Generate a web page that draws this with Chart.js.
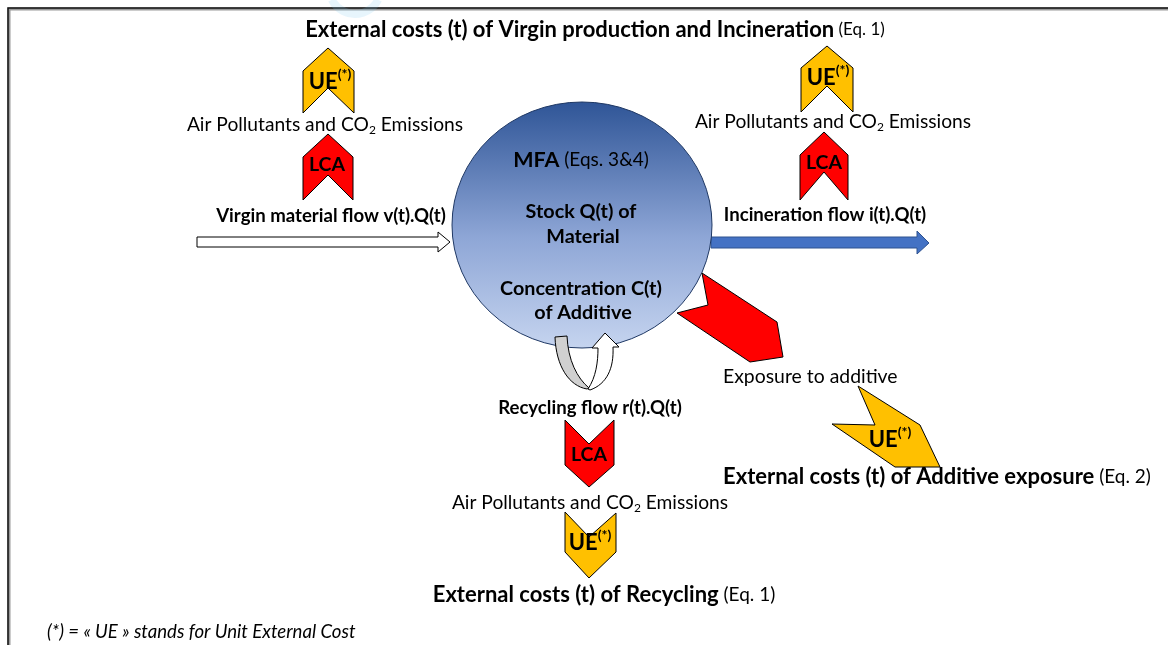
<!DOCTYPE html>
<html>
<head>
<meta charset="utf-8">
<script src="https://cdn.jsdelivr.net/npm/chart.js@4.4.1/dist/chart.umd.min.js"></script>
<style>
html, body { margin: 0; padding: 0; background: #fff; }
#wrap { width: 1168px; height: 645px; }
</style>
</head>
<body>
<div id="wrap"><canvas id="diagram" width="1168" height="645"></canvas></div>
<script>
// shapes (x, y in picture units)
const ueVirgin = [[328,48],[354,71],[354,113],[328,88],[303,113],[303,71]];
const lcaVirgin = [[328,134],[353,157],[353,200],[328,175],[303,200],[303,157]];
const ueIncin = [[827,46],[853,68],[853,112],[827,86],[801,112],[801,68]];
const lcaIncin = [[824,132],[848,155],[848,200],[824,172],[800,200],[800,155]];
const lcaRecycl = [[565,420],[589,444],[614,420],[614,465],[589,487],[565,465]];
const ueRecycl = [[565,512],[589,537],[616,513],[616,552],[589,578],[565,552]];
const exposureArrow = [[702,273],[777,322],[783,357],[750,362],[677,313],[708,305]];
const ueExposure = [[858,386],[920,425],[940,467],[895,467],[832,424],[875,425]];
const virginFlow = [[197,237],[438,237],[438,232],[450,242],[438,252],[438,247],[197,247]];
const incinFlow = [[711,237],[917,237],[917,231],[929,243],[917,254],[917,248],[711,248]];
const stockCircle = [582, 225, 130, 123];

// texts: [text, weight, size, shift]
const titleTop = [["External costs (t) of Virgin production and Incineration","bold",22],[" (Eq. 1)","normal",17]];
const airText = [["Air Pollutants and CO","normal",19.2],["2","normal",12,"sub"],[" Emissions","normal",19.2]];
const ueText = [["UE","bold",22],["(*)","bold",14,"sup"]];
const lcaText = [["LCA","bold",19.5]];
const virginText = [["Virgin material flow v(t).Q(t)","bold",18.6]];
const incinText = [["Incineration flow i(t).Q(t)","bold",18.6]];
const recyclText = [["Recycling flow r(t).Q(t)","bold",18.6]];
const mfaText = [["MFA","bold",21.5],[" (Eqs. 3&4)","normal",19]];
const stockText = [[["Stock Q(t) of","bold",19.8]],[["Material","bold",19.8]]];
const concText = [[["Concentration C(t)","bold",19.8]],[["of Additive","bold",19.8]]];
const exposureText = [["Exposure to additive","normal",19.4]];
const additiveCost = [["External costs (t) of Additive exposure","bold",22],[" (Eq. 2)","normal",19]];
const recyclCost = [["External costs (t) of Recycling","bold",22],[" (Eq. 1)","normal",19]];
const footnote = [["(*) = « UE » stands for Unit External Cost","italic",18.6]];

const FONT = "Lato, 'Open Sans', sans-serif";

const diagramPlugin = {
    id: "diagram",
    afterDraw(chart) {
        const ctx = chart.ctx;
        const sx = chart.scales.x, sy = chart.scales.y;
        const px = v => sx.getPixelForValue(v);
        const py = v => sy.getPixelForValue(v);

        function poly(pts, fill, stroke) {
            ctx.beginPath();
            pts.forEach((p, i) => i ? ctx.lineTo(px(p[0]), py(p[1])) : ctx.moveTo(px(p[0]), py(p[1])));
            ctx.closePath();
            ctx.fillStyle = fill;
            ctx.fill();
            ctx.lineWidth = 1;
            ctx.strokeStyle = stroke || "#000";
            ctx.stroke();
        }

        function runs(list, x, y, align) {
            const parts = list.map(r => {
                const f = (r[1] === "italic" ? "italic " : r[1] === "bold" ? "bold " : "") + r[2] + "px " + FONT;
                ctx.font = f;
                return { t: r[0], f: f, w: ctx.measureText(r[0]).width, s: r[3] };
            });
            const total = parts.reduce((a, p) => a + p.w, 0);
            let cx = align === "left" ? px(x) : px(x) - total / 2;
            ctx.textBaseline = "middle";
            ctx.textAlign = "left";
            ctx.fillStyle = "#000";
            parts.forEach(p => {
                ctx.font = p.f;
                const dy = p.s === "sub" ? 5 : p.s === "sup" ? -8 : 0;
                ctx.fillText(p.t, cx, py(y) + dy);
                cx += p.w;
            });
        }

        ctx.save();

        // frame
        ctx.strokeStyle = "#999";
        ctx.lineWidth = 3;
        ctx.beginPath();
        ctx.moveTo(px(9), py(645)); ctx.lineTo(px(9), py(9)); ctx.lineTo(px(1168), py(9));
        ctx.stroke();
        ctx.strokeStyle = "#111";
        ctx.lineWidth = 1.5;
        ctx.beginPath();
        ctx.moveTo(px(8), py(645)); ctx.lineTo(px(8), py(8)); ctx.lineTo(px(1168), py(8));
        ctx.stroke();

        // faint watermark
        ctx.strokeStyle = "rgba(120,200,240,0.18)";
        ctx.lineWidth = 8;
        ctx.beginPath();
        ctx.arc(px(355), py(-12), 26, 0.15 * Math.PI, 0.85 * Math.PI);
        ctx.stroke();

        // flows
        poly(virginFlow, "#fff");
        poly(incinFlow, "#4472c4", "#2f528f");

        // stock circle
        const [cx0, cy0, rx, ry] = stockCircle;
        const g = ctx.createLinearGradient(0, py(cy0 - ry), 0, py(cy0 + ry));
        g.addColorStop(0, "#2f5597");
        g.addColorStop(0.55, "#8ea6d6");
        g.addColorStop(1, "#c5d4ef");
        ctx.beginPath();
        ctx.ellipse(px(cx0), py(cy0), rx, ry, 0, 0, 2 * Math.PI);
        ctx.fillStyle = g;
        ctx.fill();
        ctx.strokeStyle = "#1f3864";
        ctx.lineWidth = 1;
        ctx.stroke();

        // exposure arrow
        poly(exposureArrow, "#ff0000");

        // recycling loop
        ctx.beginPath();
        ctx.moveTo(px(555), py(337));
        ctx.bezierCurveTo(px(556), py(366), px(569), py(386), px(587), py(389));
        ctx.lineTo(px(589), py(388));
        ctx.bezierCurveTo(px(577), py(378), px(568), py(360), px(567), py(336));
        ctx.closePath();
        ctx.fillStyle = "#d0d0d0";
        ctx.fill();
        ctx.strokeStyle = "#000";
        ctx.stroke();

        ctx.beginPath();
        ctx.moveTo(px(588), py(389));
        ctx.bezierCurveTo(px(596), py(377), px(598), py(362), px(598), py(348));
        ctx.lineTo(px(592), py(348));
        ctx.lineTo(px(605), py(333));
        ctx.lineTo(px(619), py(347));
        ctx.lineTo(px(613), py(347));
        ctx.bezierCurveTo(px(614), py(368), px(607), py(384), px(590), py(390));
        ctx.closePath();
        ctx.fillStyle = "#fff";
        ctx.fill();
        ctx.stroke();

        // chevrons
        poly(ueVirgin, "#ffc000");
        poly(lcaVirgin, "#ff0000");
        poly(ueIncin, "#ffc000");
        poly(lcaIncin, "#ff0000");
        poly(lcaRecycl, "#ff0000");
        poly(ueRecycl, "#ffc000");
        poly(ueExposure, "#ffc000");

        // texts
        runs(titleTop, 595, 30);
        runs(ueText, 330, 82);
        runs(airText, 325, 125);
        runs(lcaText, 327, 165);
        runs(virginText, 331, 216);

        runs(ueText, 828, 78);
        runs(airText, 833, 122);
        runs(lcaText, 824, 163);
        runs(incinText, 825, 215);

        runs(mfaText, 581, 160);
        runs(stockText[0], 581, 212);
        runs(stockText[1], 583, 237);
        runs(concText[0], 581, 289);
        runs(concText[1], 583, 313);

        runs(exposureText, 723, 377, "left");
        runs(ueText, 890, 440);
        runs(additiveCost, 723, 477, "left");

        runs(recyclText, 590, 408);
        runs(lcaText, 589, 455);
        runs(airText, 590, 503);
        runs(ueText, 590, 543);
        runs(recyclCost, 604, 595);

        runs(footnote, 47, 632, "left");

        ctx.restore();
    }
};

new Chart(document.getElementById("diagram"), {
    type: "scatter",
    data: { datasets: [{ data: [] }] },
    options: {
        responsive: false,
        animation: false,
        events: [],
        layout: { padding: 0 },
        plugins: { legend: { display: false }, tooltip: { enabled: false } },
        scales: {
            x: { type: "linear", min: 0, max: 1168, display: false },
            y: { type: "linear", min: 0, max: 645, reverse: true, display: false }
        }
    },
    plugins: [diagramPlugin]
});
</script>
</body>
</html>
